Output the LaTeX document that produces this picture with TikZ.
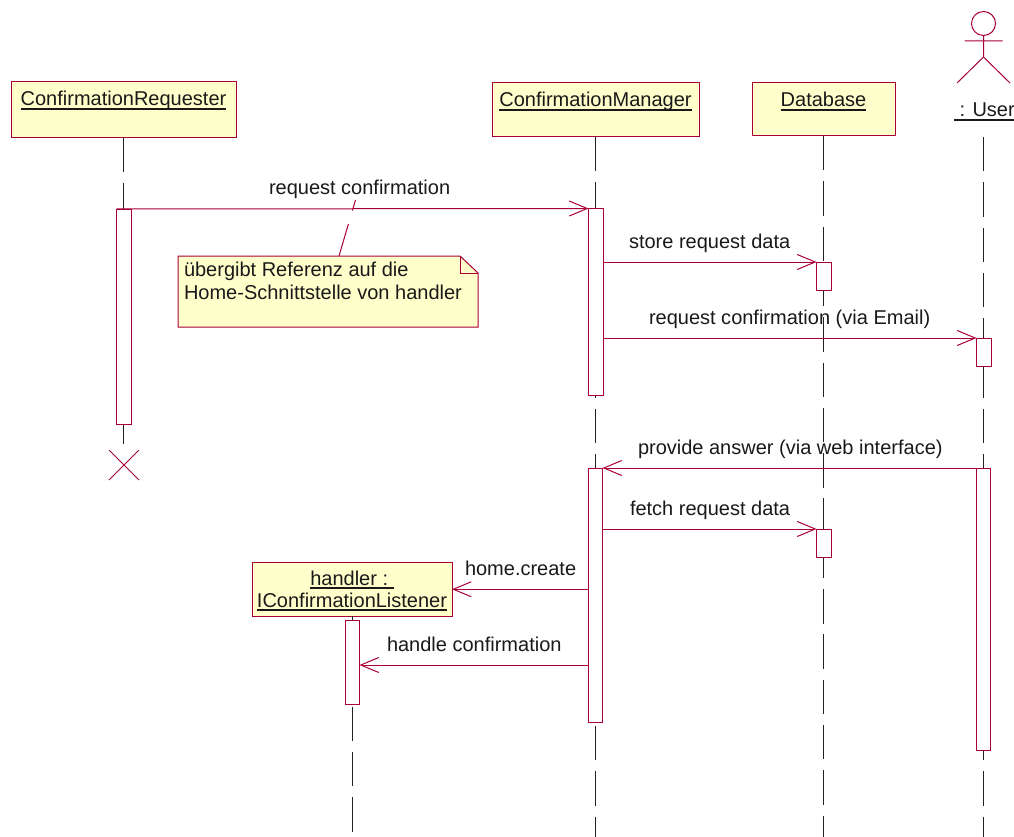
\documentclass[tikz,border=0pt]{standalone}
\usepackage{fontspec}
\setmainfont{Liberation Sans}
\usetikzlibrary{arrows.meta,shapes.misc,calc}
\definecolor{rose}{HTML}{A80036}
\definecolor{paper}{HTML}{FFFFCC}
\definecolor{lifeln}{HTML}{202020}
\newcommand{\dgfont}{\fontsize{20}{22}\selectfont}
\newsavebox{\ulsave}
\newcommand{\ulbl}[1]{\sbox{\ulsave}{#1}\rlap{\rule[-3.6pt]{\wd\ulsave}{1.3pt}}\usebox{\ulsave}}
\tikzset{
  x=1pt,y=-1pt,
  every node/.style={font=\dgfont,text=black!90,outer sep=0pt},
  objbox/.style={draw=rose,fill=paper,line width=1pt,inner sep=0pt,anchor=north west},
  actbox/.style={draw=rose,fill=white,line width=1pt,inner sep=0pt,anchor=north west,minimum width=14.5pt},
  life/.style={draw=lifeln,line width=1pt,dash pattern=on 34.5pt off 10.8pt},
  msg/.style={draw=rose,line width=1pt,-{Straight Barb[length=18pt,width=15pt,line width=1pt]}},
  lbl/.style={inner sep=0pt,anchor=base west},
  rosethin/.style={draw=rose,line width=1pt}
}
\begin{document}
\begin{tikzpicture}
\useasboundingbox (0,0) rectangle (1014,837);
% object boxes
\node[objbox,minimum width=225pt,text height=24pt,text depth=32pt] (req) at (11,82) {\ulbl{ConfirmationRequester}};
\node[objbox,minimum width=207pt,text height=24pt,text depth=30pt] (mgr) at (492,83) {\ulbl{ConfirmationManager}};
\node[objbox,minimum width=143pt,text height=24pt,text depth=29pt] (db) at (752,83) {\ulbl{Database}};
\node[objbox,minimum width=200pt,minimum height=53.5pt,align=center,text height=44.5pt,text depth=9pt] (hdl) at (252,562.5) {\ulbl{handler :\ }\\\ulbl{IConfirmationListener}};
% actor
\coordinate (head) at (983.5,23.5);
\draw[rosethin] (head) circle (12);
\coordinate (neck) at (983.5,35.5);
\coordinate (hip) at (983.5,57);
\coordinate (armL) at (964.5,41);
\coordinate (armR) at (1002.5,41);
\coordinate (legL) at (957,83);
\coordinate (legR) at (1010,83);
\draw[rosethin] (neck) -- (hip) (armL) -- (armR) (legL) -- (hip) -- (legR);
\node[lbl] (usr) at (954,117) {\ulbl{\ : User}};
% destroy mark
\node[draw=rose,line width=1pt,cross out,minimum size=30pt,inner sep=0pt] (xm) at (124,465) {};
% lifeline ends
\coordinate (usrTop) at (983.5,137);
\coordinate (mgrEnd) at (595.5,837);
\coordinate (dbEnd) at (823.5,837);
\coordinate (usrEnd) at (983.5,837);
\coordinate (hdlEnd) at (352,833);
\path[life] (req.south) -- (req.south |- xm.north);
\path[life] (mgr.south) -- (mgrEnd);
\path[life] (db.south) -- (dbEnd);
\path[life] (usrTop) -- (usrEnd);
\path[life] (hdl.south) -- (hdlEnd);
% activations
\node[actbox,minimum height=215pt] (reqA) at (116.5,209) {};
\node[actbox,minimum height=186.5pt] (mgrA) at (588.5,208.5) {};
\node[actbox,minimum height=28pt] (dbA) at (816.5,262) {};
\node[actbox,minimum height=28pt] (usrA) at (976.5,338) {};
\node[actbox,minimum height=254pt] (mgrB) at (588,468) {};
\node[actbox,minimum height=282pt] (usrB) at (976,468) {};
\node[actbox,minimum height=28pt] (dbB) at (816.5,529) {};
\node[actbox,minimum height=84pt] (hdlA) at (345,620) {};
\coordinate (hcY) at (0,665);
% note
\draw[rose,line width=1pt,fill=paper] (178,256) -- (460,256) -- (478,273) -- (478,327) -- (178,327) -- cycle;
\draw[rosethin] (460,256) -- (460,273) -- (478,273);
\node[inner sep=0pt,anchor=north west,minimum width=300pt,minimum height=71pt] (note) at (178,256) {};
\node[lbl] (noteA) at (184,276) {übergibt Referenz auf die};
\node[lbl] (noteB) at (184,299) {Home-Schnittstelle von handler};
% messages
\draw[msg] (reqA.north west) -- (mgrA.north west);
\draw[msg] (mgrA.east |- dbA.north) -- (dbA.north west);
\draw[msg] (mgrA.east |- usrA.north) -- (usrA.north west);
\draw[msg] (usrB.north west) -- (mgrB.north east);
\draw[msg] (mgrB.east |- dbB.north) -- (dbB.north west);
\draw[msg] (mgrB.west |- hdl.east) -- (hdl.east);
\draw[msg] (mgrB.west |- hcY) -- (hdlA.east |- hcY);
% note anchor line
\coordinate (noteTip) at (355.5,200);
\draw[rose,line width=1pt,dash pattern=on 11pt off 14pt on 35pt] (noteTip) -- ($(note.north west)+(161,0)$);
% labels
\node[lbl] (m1) at (269,194.5) {request confirmation};
\node[lbl] (m2) at (629,248) {store request data};
\node[lbl] (m3) at (649,324) {request confirmation (via Email)};
\node[lbl] (m4) at (638,454) {provide answer (via web interface)};
\node[lbl] (m5) at (630,515) {fetch request data};
\node[lbl] (m6) at (465,575) {home.create};
\node[lbl] (m7) at (387,651) {handle confirmation};
\end{tikzpicture}
\end{document}
